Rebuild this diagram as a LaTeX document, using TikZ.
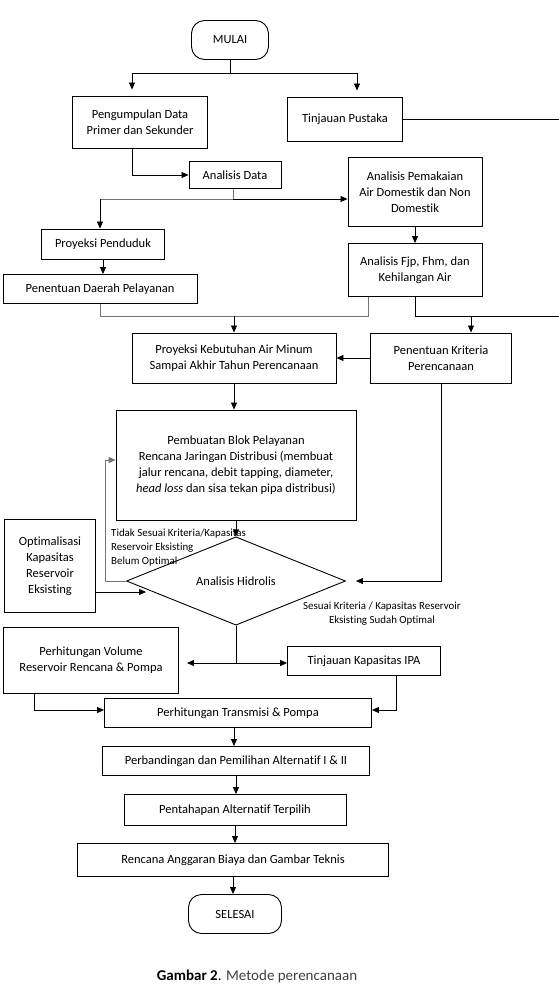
\documentclass[tikz,border=0pt]{standalone}
\usepackage{fontspec}
\setmainfont{Carlito}[Ligatures=NoCommon]
\usetikzlibrary{shapes.geometric,arrows.meta}

\tikzset{
  kotak/.style={draw, line width=0.9pt, align=center, inner sep=0pt},
  terminal/.style={kotak, rounded corners=13pt},
  panah/.style={-{Triangle[length=7pt,width=6pt]}, line width=0.8pt},
  garis/.style={line width=0.8pt},
  tipis/.style={black!55, line width=0.6pt},
  kecil/.style={font=\fontsize{10.9}{14}\selectfont, inner sep=0pt},
}

\begin{document}
\begin{tikzpicture}[x=1pt,y=-1pt,font=\fontsize{12.5}{16}\selectfont]
\useasboundingbox (0,0) rectangle (559,997);

\node[terminal, minimum width=77, minimum height=39] (mulai) at (230,40) {MULAI};
\node[kotak, minimum width=135, minimum height=52] (data) at (140,122) {Pengumpulan Data\\Primer dan Sekunder};
\node[kotak, minimum width=115, minimum height=44] (pustaka) at (345,119) {Tinjauan Pustaka};
\node[kotak, minimum width=92, minimum height=27] (analisis) at (235,175) {Analisis Data};
\node[kotak, minimum width=134, minimum height=69] (pemakaian) at (415,192) {Analisis Pemakaian\\Air Domestik dan Non\\Domestik};
\node[kotak, minimum width=123, minimum height=30] (penduduk) at (103,244) {Proyeksi Penduduk};
\node[kotak, minimum width=194, minimum height=29] (daerah) at (100,289) {Penentuan Daerah Pelayanan};
\node[kotak, minimum width=134, minimum height=53] (fjp) at (415,270) {Analisis Fjp, Fhm, dan\\Kehilangan Air};
\node[kotak, minimum width=204, minimum height=50] (kebutuhan) at (234,358) {Proyeksi Kebutuhan Air Minum\\Sampai Akhir Tahun Perencanaan};
\node[kotak, minimum width=141, minimum height=50] (kriteria) at (441,358) {Penentuan Kriteria\\Perencanaan};
\node[kotak, minimum width=240, minimum height=110] (blok) at (236,465) {Pembuatan Blok Pelayanan\\Rencana Jaringan Distribusi (membuat\\jalur rencana, debit tapping, diameter,\\\textit{head loss} dan sisa tekan pipa distribusi)};
\node[diamond, draw, line width=0.9pt, minimum width=219, minimum height=56, inner sep=0pt] (hidrolis) at (236,581) {Analisis Hidrolis};
\node[kotak, minimum width=91, minimum height=93] (optimal) at (50,566) {Optimalisasi\\Kapasitas\\Reservoir\\Eksisting};
\node[kotak, minimum width=175, minimum height=66] (volume) at (91,660) {Perhitungan Volume\\Reservoir Rencana \& Pompa};
\node[kotak, minimum width=153, minimum height=29] (ipa) at (364,661) {Tinjauan Kapasitas IPA};
\node[kotak, minimum width=267, minimum height=29] (transmisi) at (238,713) {Perhitungan Transmisi \& Pompa};
\node[kotak, minimum width=267, minimum height=29] (banding) at (236,761) {Perbandingan dan Pemilihan Alternatif I \& II};
\node[kotak, minimum width=222, minimum height=31] (tahap) at (235,810) {Pentahapan Alternatif Terpilih};
\node[kotak, minimum width=311, minimum height=33] (rab) at (233,860) {Rencana Anggaran Biaya dan Gambar Teknis};
\node[terminal, minimum width=93, minimum height=39] (selesai) at (235,914) {SELESAI};

\node[kecil, align=left, anchor=north west] (tidak) at (111,529) {Tidak Sesuai Kriteria/Kapasitas\\Reservoir Eksisting\\Belum Optimal};
\node[kecil, align=center] (sesuai) at (382,614) {Sesuai Kriteria / Kapasitas Reservoir\\Eksisting Sudah Optimal};
\node[font=\fontsize{15}{18}\selectfont] (judul) at (257,976) {\textbf{Gambar 2}. {\color{black!75}Metode perencanaan}};

% mulai
\coordinate (cabang1) at (mulai.south |- 0,73);
\draw[garis] (mulai.south) -- (cabang1);
\draw[panah, shorten >=6pt] (cabang1) -| ([xshift=-8]data.north);
\draw[panah, shorten >=6pt] (cabang1) -| ([xshift=12]pustaka.north);
\draw[panah] ([xshift=-8]data.south) |- (analisis.west);

% analisis data
\coordinate (cabang2) at ([xshift=-2]analisis.south |- 0,199);
\draw[tipis] ([xshift=-2]analisis.south) -- (cabang2);
\draw[tipis] ([xshift=-3]penduduk.north |- cabang2) -- (cabang2);
\draw[panah] ([xshift=-3]penduduk.north |- cabang2) -- ([xshift=-3]penduduk.north);
\draw[panah] (cabang2) -- (pemakaian.west |- cabang2);
\draw[panah] (penduduk.south) -- (penduduk.south |- daerah.north);
\draw[panah] (pemakaian.south) -- (fjp.north);

% gabung ke kebutuhan air
\coordinate (gabung) at (kebutuhan.north |- 0,316);
\coordinate (kanan) at (565,316);
\draw[tipis] (daerah.south) |- ([xshift=-47]fjp.south |- gabung) -- ([xshift=-47]fjp.south);
\draw[panah] (gabung) -- (kebutuhan.north);
\draw[garis] (fjp.south) |- (kanan);
\draw[garis] (pustaka.east) -- (565,119) -- (kanan);
\draw[panah] ([xshift=30]kriteria.north |- kanan) -- ([xshift=30]kriteria.north);
\draw[panah] (kriteria.west) -- (kebutuhan.east);
\draw[panah] (kebutuhan.south) -- (kebutuhan.south |- blok.north);

% analisis hidrolis
\draw[panah, shorten >=10pt] (kriteria.south) |- (hidrolis.east);
\draw[panah] (blok.south) -- (hidrolis.north);
\draw[panah, tipis] (hidrolis.west) -- ++(-21,0) |- ([yshift=5pt]blok.west);
\draw[panah] ([yshift=-26pt]optimal.east) -- ([xshift=20pt,yshift=-11pt]hidrolis.west);

\coordinate (cabang3) at (hidrolis.south |- 0,663);
\draw[garis] (hidrolis.south) -- (cabang3);
\draw[panah, shorten >=8pt] (cabang3) -- (cabang3 -| volume.east);
\draw[panah] (cabang3) -- (cabang3 -| ipa.west);
\draw[panah] ([xshift=-57]volume.south) |- ([yshift=3pt]transmisi.west);
\draw[panah] ([xshift=32]ipa.south) |- ([yshift=3pt]transmisi.east);

% akhir
\draw[panah] ([xshift=-4]transmisi.south) -- ([xshift=-4]transmisi.south |- banding.north);
\draw[panah] (banding.south) -- (banding.south |- tahap.north);
\draw[panah] (tahap.south) -- (tahap.south |- rab.north);
\draw[panah] (rab.south) -- (rab.south |- selesai.north);

\end{tikzpicture}
\end{document}
